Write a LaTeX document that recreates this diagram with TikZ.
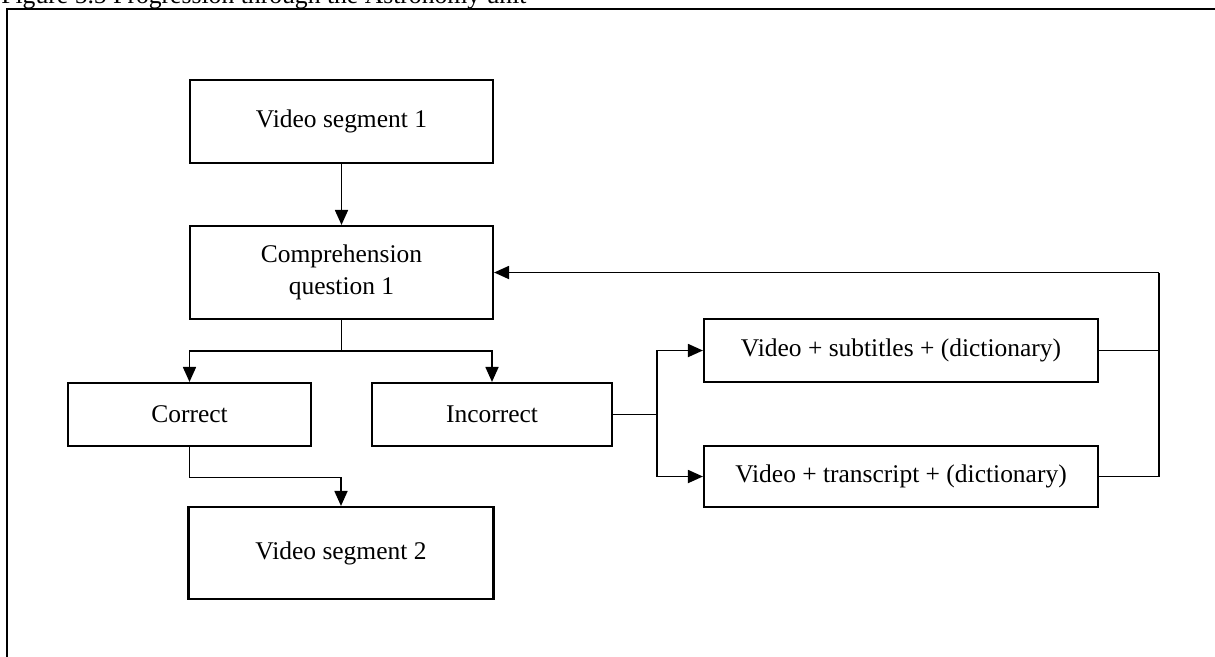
\documentclass[tikz,border=0pt]{standalone}
\usepackage{fontspec}
\setmainfont{Liberation Serif}
\usetikzlibrary{arrows.meta}
\begin{document}
\begin{tikzpicture}[>={Triangle[length=0.3cm,width=0.26cm]},
    box/.style={draw, line width=1.2pt, inner sep=0pt, align=center,
                font=\fontsize{14.5}{18}\selectfont},
    link/.style={line width=1pt}]
    \useasboundingbox (0,0) rectangle (24.3,-13.12);
    % caption and frame
    \node[anchor=base west, inner sep=0pt, font=\fontsize{14.6}{18}\selectfont] (cap) at (0.02,-0.07)
        {Figure 5.5 Progression through the Astronomy unit};
    \draw[line width=1.2pt] (0.14,-13.5) -- (0.14,-0.18) -- (24.6,-0.18);

    % boxes
    \node[box, minimum width=6.06cm, minimum height=1.66cm] (seg1) at (6.83,-2.43) {Video segment 1};
    \node[box, minimum width=6.06cm, minimum height=1.86cm] (quest) at (6.83,-5.45) {Comprehension\\question 1};
    \node[box, minimum width=4.86cm, minimum height=1.26cm] (right) at (3.79,-8.29) {Correct};
    \node[box, minimum width=4.80cm, minimum height=1.26cm] (wrong) at (9.84,-8.29) {Incorrect};
    \node[box, minimum width=6.10cm, minimum height=1.84cm] (seg2) at (6.82,-11.06) {Video segment 2};
    \node[box, minimum width=7.88cm, minimum height=1.26cm] (subs) at (18.02,-7.01) {Video + subtitles + (dictionary)};
    \node[box, minimum width=7.88cm, minimum height=1.22cm] (trans) at (18.02,-9.53) {Video + transcript + (dictionary)};

    % branch points
    \coordinate (split) at (6.83,-7.02);
    \coordinate (fork) at (13.14,-8.29);
    \coordinate (back) at (23.18,-5.45);

    \draw[link,->] (seg1) -- (quest);
    \draw[link] (quest) -- (split);
    \draw[link,->] (split) -| (right);
    \draw[link,->] (split) -| (wrong);
    \draw[link,->] (right.south) -- ++(0,-0.61) -| (seg2);

    \draw[link] (wrong) -- (fork);
    \draw[link,->] (fork) |- (subs);
    \draw[link,->] (fork) |- (trans);

    % back to the question
    \draw[link] (subs.east) -| (back);
    \draw[link] (trans.east) -| (back);
    \draw[link,->] (back) -- (quest);
\end{tikzpicture}
\end{document}
